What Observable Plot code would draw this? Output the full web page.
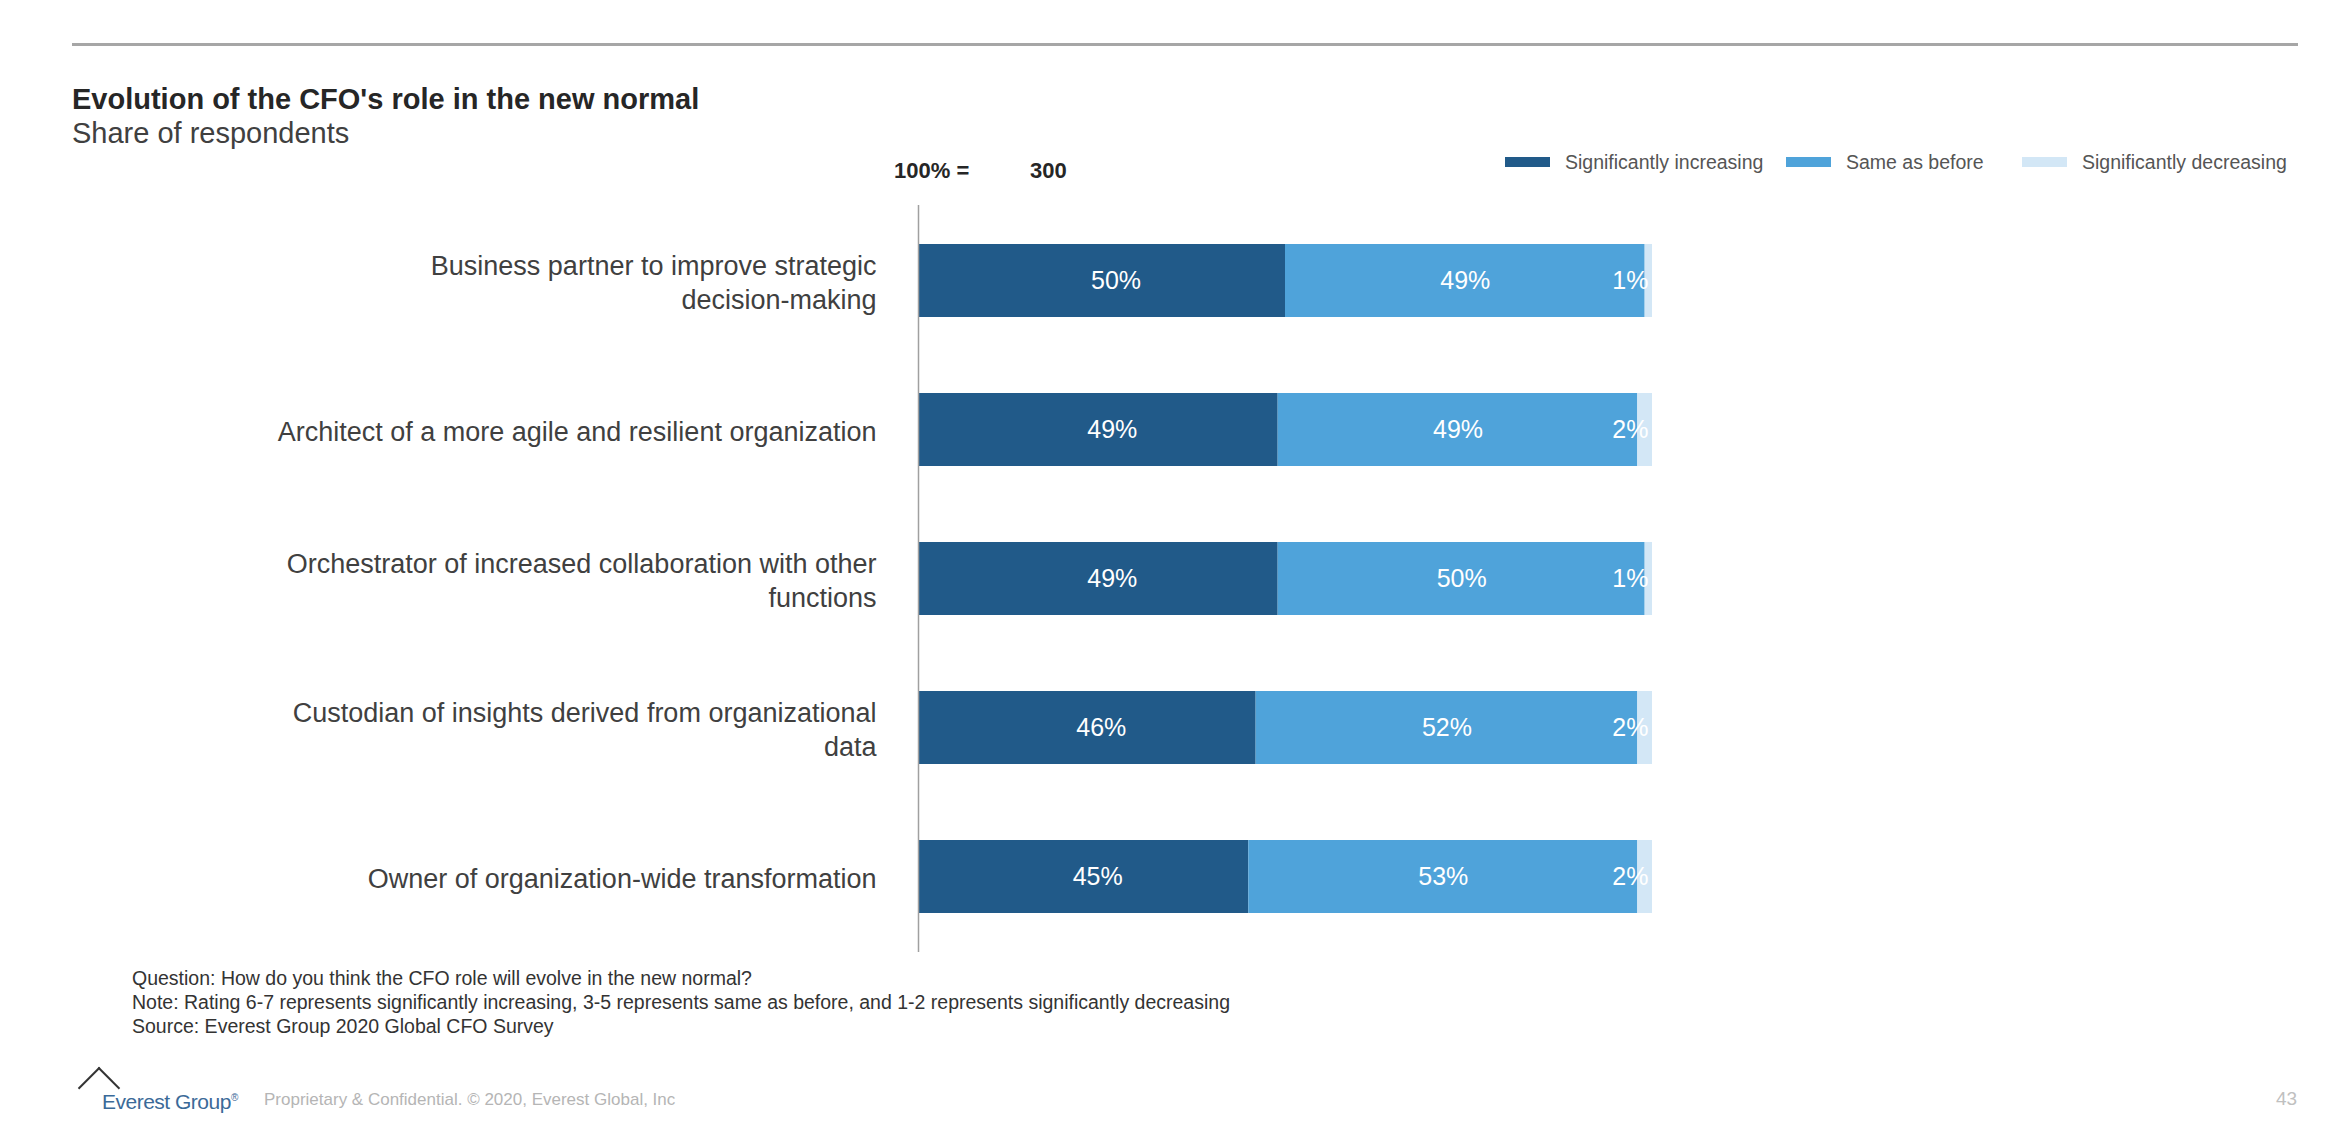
<!DOCTYPE html>
<html>
<head>
<meta charset="utf-8">
<script src="https://cdn.jsdelivr.net/npm/d3@7"></script>
<script src="https://cdn.jsdelivr.net/npm/@observablehq/plot@0.6"></script>
<style>
  html, body { margin: 0; padding: 0; background: #fff; }
  #page { position: relative; width: 2348px; height: 1138px; overflow: hidden; font-family: "Liberation Sans", Arial, sans-serif; color: #333; }
  .abs { position: absolute; white-space: nowrap; }
  #rule { left: 72px; top: 43px; width: 2226px; height: 3px; background: #a6a6a6; }
  #title { left: 72px; top: 82px; font-size: 29px; font-weight: bold; color: #262626; line-height: 34px; }
  #subtitle { left: 72px; top: 116px; font-size: 29px; color: #404040; line-height: 34px; }
  #base { left: 894px; top: 157px; font-size: 22px; font-weight: bold; color: #262626; line-height: 28px; }
  #baseVal { left: 1030px; top: 157px; font-size: 22px; font-weight: bold; color: #262626; line-height: 28px; }
  .sw { position: absolute; width: 45px; height: 10px; top: 157px; }
  .lt { position: absolute; top: 150px; font-size: 19.5px; color: #555; line-height: 24px; white-space: nowrap; }
  #chart { left: 0; top: 190px; }
  .foot { left: 132px; font-size: 19.5px; color: #333; line-height: 24px; }
  #logoText { left: 102px; top: 1085px; font-size: 21px; color: #3b6a98; line-height: 26px; letter-spacing: -0.5px; }
  #logoText sup { font-size: 10px; }
  #chev { left: 84px; top: 1073px; width: 28px; height: 28px; border-left: 2px solid #333; border-top: 2px solid #333; transform: rotate(45deg); transform-origin: center; }
  #prop { left: 264px; top: 1089px; font-size: 17px; color: #b5b5b5; line-height: 22px; }
  #pageNum { left: 2276px; top: 1087px; font-size: 19px; color: #c0c0c0; line-height: 24px; }
</style>
</head>
<body>
<div id="page">
  <div id="rule" class="abs"></div>
  <div id="title" class="abs"></div>
  <div id="subtitle" class="abs"></div>
  <div id="base" class="abs"></div>
  <div id="baseVal" class="abs"></div>
  <div id="chart" class="abs"></div>
  <div id="q" class="abs foot" style="top:966px"></div>
  <div id="note" class="abs foot" style="top:990px"></div>
  <div id="src" class="abs foot" style="top:1014px"></div>
  <div id="chev" class="abs"></div>
  <div id="logoText" class="abs">Everest Group<sup>®</sup></div>
  <div id="prop" class="abs"></div>
  <div id="pageNum" class="abs"></div>
</div>
<script>
// ---- Data ----
const titleText = "Evolution of the CFO's role in the new normal";
const subtitleText = "Share of respondents";
const baseLabel = "100% =";
const sampleSize = 300;

const roles = [
  "Business partner to improve strategic\ndecision-making",
  "Architect of a more agile and resilient organization",
  "Orchestrator of increased collaboration with other\nfunctions",
  "Custodian of insights derived from organizational\ndata",
  "Owner of organization-wide transformation"
];
const responses = ["Significantly increasing", "Same as before", "Significantly decreasing"];
const increasing = [50, 49, 49, 46, 45];
const sameAsBefore = [49, 49, 50, 52, 53];
const decreasing = [1, 2, 1, 2, 2];
const colors = ["#215a89", "#4fa3da", "#d3e7f6"];

const footnotes = [
  "Question: How do you think the CFO role will evolve in the new normal?",
  "Note: Rating 6-7 represents significantly increasing, 3-5 represents same as before, and 1-2 represents significantly decreasing",
  "Source: Everest Group 2020 Global CFO Survey"
];
const proprietary = "Proprietary & Confidential. © 2020, Everest Global, Inc";
const pageNumber = "43";

// ---- Build table ----
const series = [increasing, sameAsBefore, decreasing];
const data = roles.flatMap((role, i) =>
  responses.map((response, j) => ({role, response, value: series[j][i]}))
);

// ---- Text ----
document.getElementById("title").textContent = titleText;
document.getElementById("subtitle").textContent = subtitleText;
document.getElementById("base").textContent = baseLabel;
document.getElementById("baseVal").textContent = String(sampleSize);
document.getElementById("q").textContent = footnotes[0];
document.getElementById("note").textContent = footnotes[1];
document.getElementById("src").textContent = footnotes[2];
document.getElementById("prop").textContent = proprietary;
document.getElementById("pageNum").textContent = pageNumber;

// legend (page layout positions)
const page = document.getElementById("page");
const legendSwatchX = [1505, 1786, 2022];
responses.forEach((r, j) => {
  const sw = document.createElement("div");
  sw.className = "sw";
  sw.style.left = legendSwatchX[j] + "px";
  sw.style.background = colors[j];
  const t = document.createElement("div");
  t.className = "lt";
  t.style.left = (legendSwatchX[j] + 60) + "px";
  t.textContent = r;
  page.appendChild(sw);
  page.appendChild(t);
});

// ---- Chart ----
const chart = Plot.plot({
  width: 1720,
  height: 790,
  marginTop: 15,
  marginBottom: 28,
  marginLeft: 918,
  marginRight: 68,
  style: {fontFamily: "'Liberation Sans', Arial, sans-serif", background: "transparent"},
  x: {domain: [0, 100], axis: null},
  y: {domain: roles, axis: null, paddingInner: 0.51, paddingOuter: 0.26},
  color: {domain: responses, range: colors},
  marks: [
    Plot.barX(data, Plot.stackX({x: "value", y: "role", fill: "response", order: null})),
    Plot.text(data, Plot.stackX({
      x: "value", y: "role", z: "response", order: null,
      text: d => d.response === responses[0] ? `${d.value}%` : null,
      fill: "white", fontSize: 25, dx: 14
    })),
    Plot.text(data, Plot.stackX({
      x: "value", y: "role", z: "response", order: null,
      text: d => d.response === responses[1] ? `${d.value}%` : null,
      fill: "white", fontSize: 25
    })),
    Plot.text(data, Plot.stackX2({
      x: "value", y: "role", z: "response", order: null,
      text: d => d.response === responses[2] ? `${d.value}%` : null,
      fill: "white", fontSize: 25, textAnchor: "end", dx: -4
    })),
    Plot.text(roles, {
      x: () => 0, y: d => d, text: d => d,
      textAnchor: "end", dx: -42, fontSize: 27, fill: "#404040", lineHeight: 1.28
    }),
    Plot.ruleX([0], {stroke: "#a0a0a0", strokeWidth: 1.5})
  ]
});
document.getElementById("chart").appendChild(chart);
</script>
</body>
</html>
